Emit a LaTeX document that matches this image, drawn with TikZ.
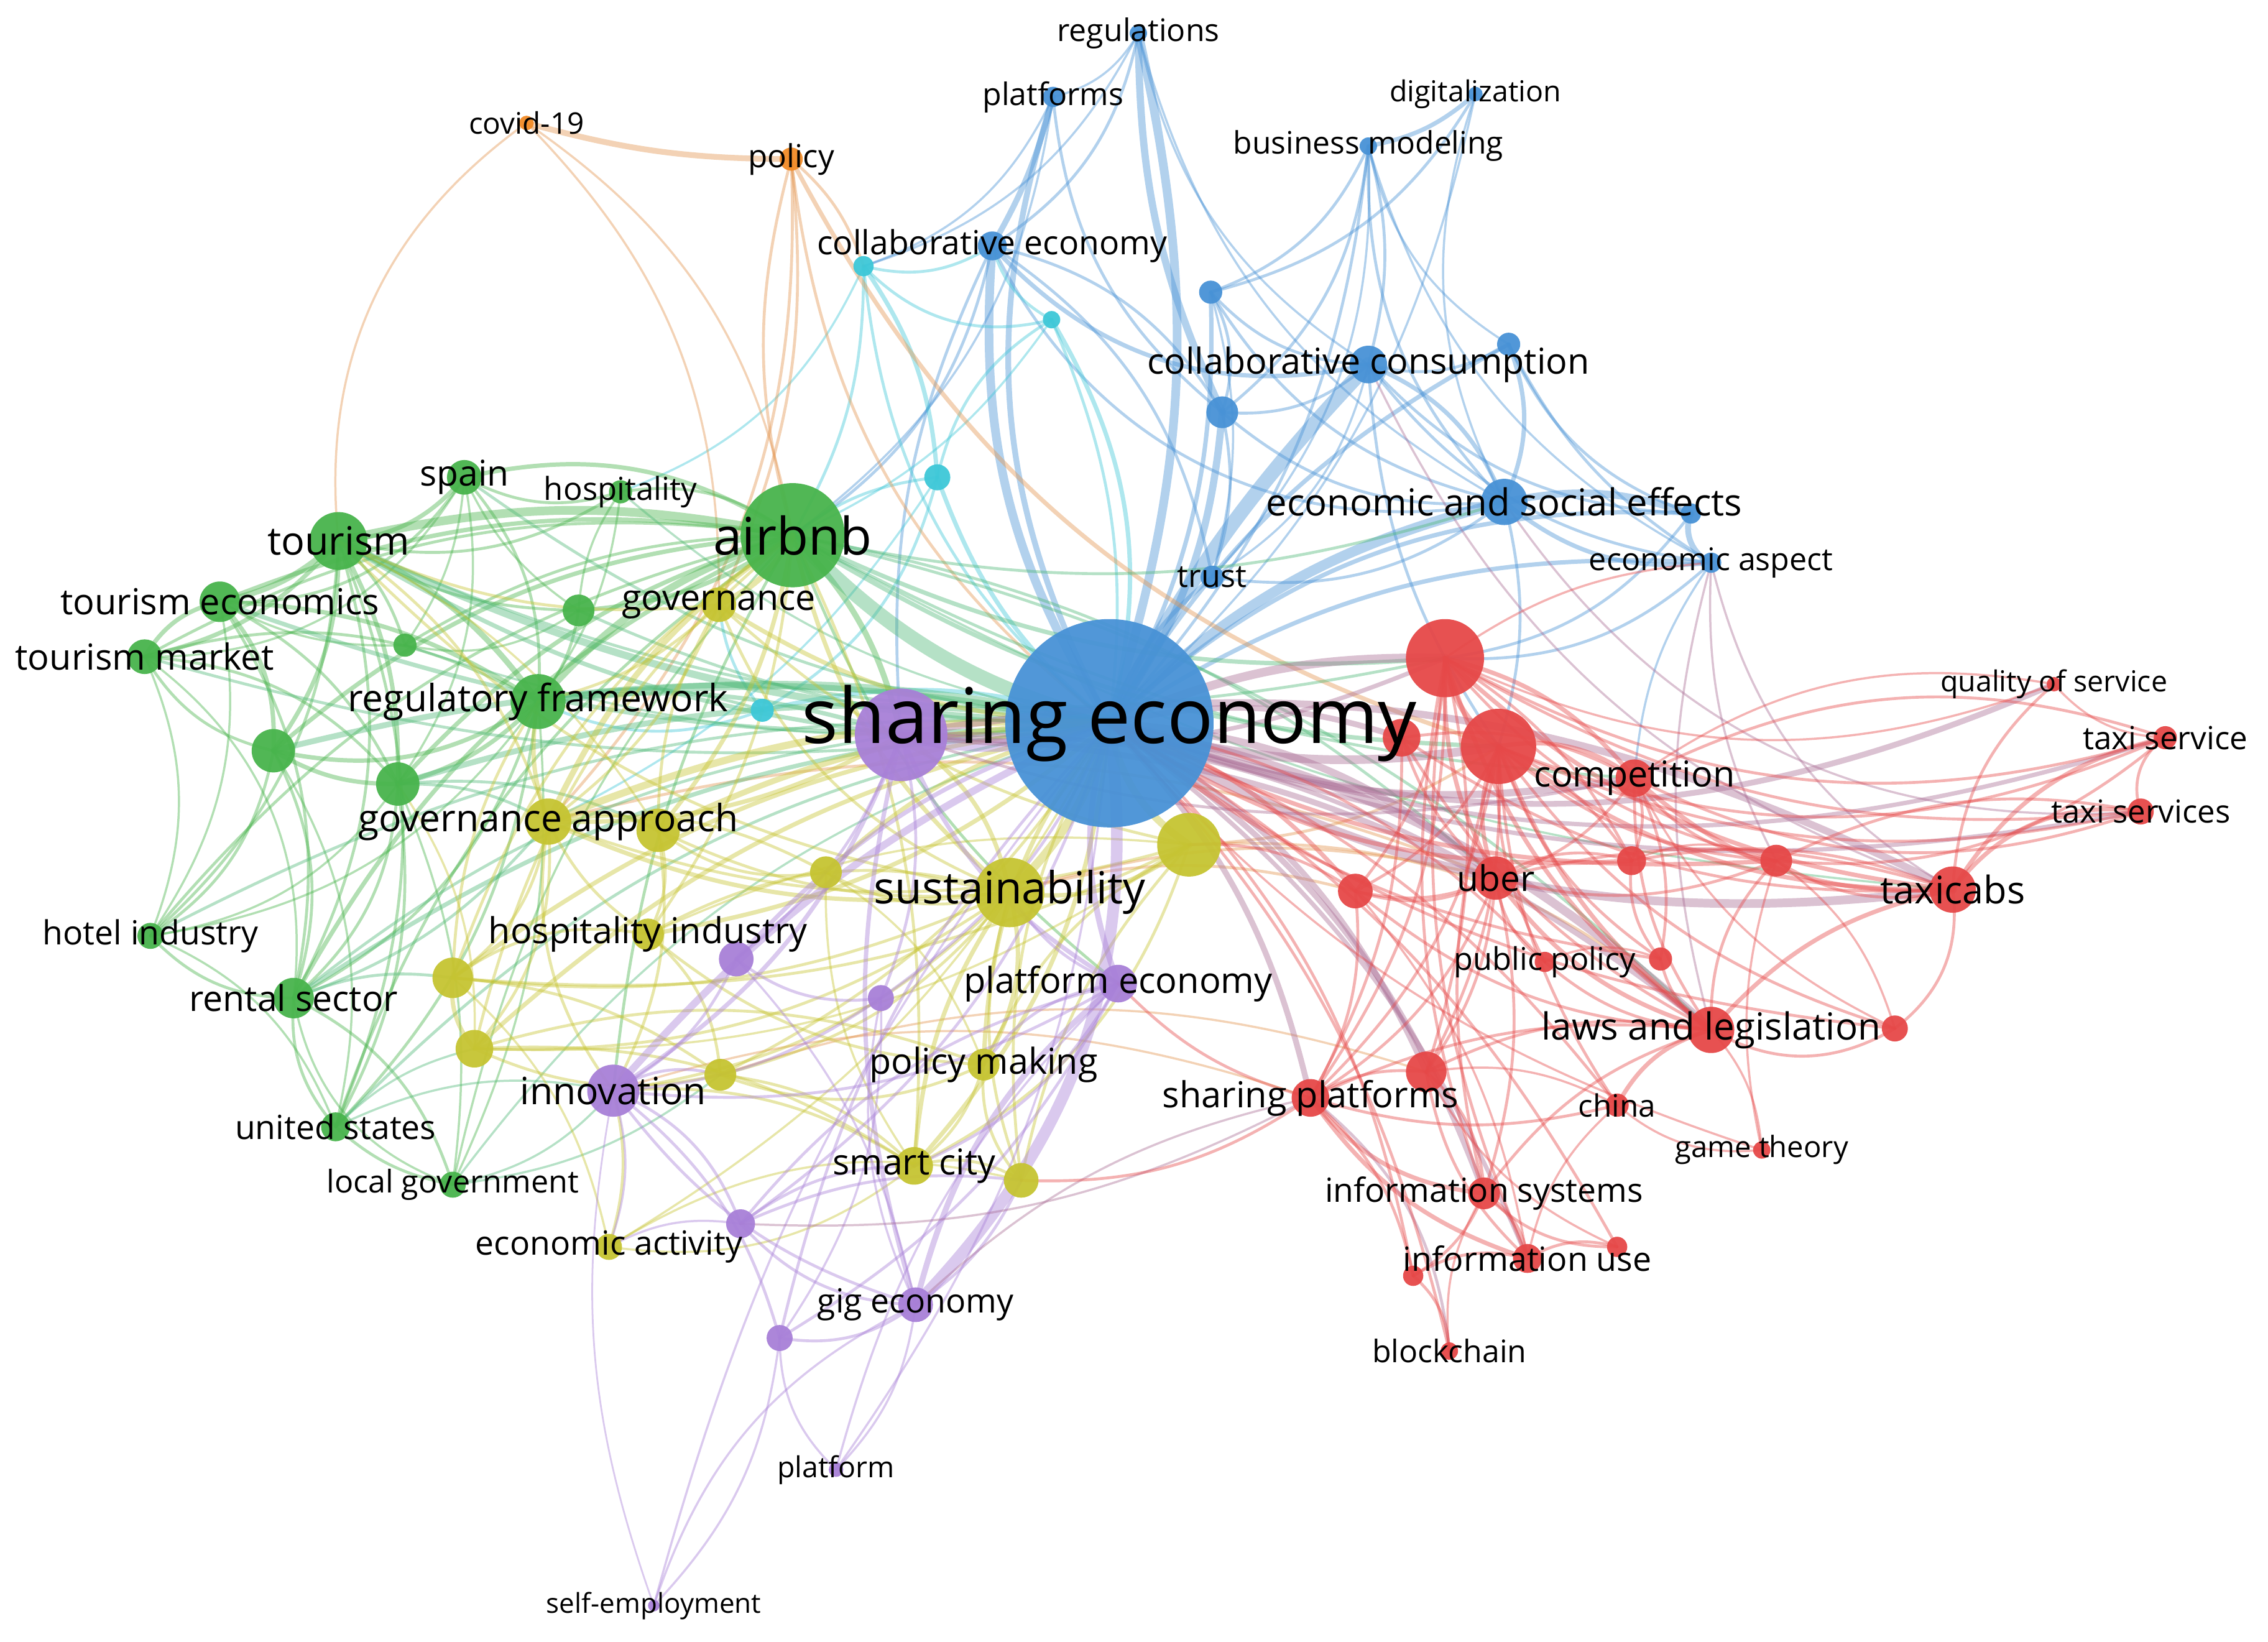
\documentclass[tikz,border=0pt]{standalone}
\usepackage{fontspec}
\setmainfont{Open Sans}
\definecolor{cR}{RGB}{230,72,72}
\definecolor{cG}{RGB}{72,180,76}
\definecolor{cB}{RGB}{72,146,214}
\definecolor{cY}{RGB}{198,196,50}
\definecolor{cP}{RGB}{168,128,216}
\definecolor{cC}{RGB}{62,200,216}
\definecolor{cO}{RGB}{242,140,40}
\definecolor{cM}{RGB}{170,110,150}
\definecolor{cT}{RGB}{80,185,120}
\definecolor{cK}{RGB}{228,150,80}
\tikzset{
  edge/.style={draw opacity=0.42, line cap=round},
  dot/.style={circle, inner sep=0pt, draw=none, fill opacity=0.95},
  lbl/.style={inner sep=0pt, text=black}
}
\begin{document}
\begin{tikzpicture}[x=1pt,y=-1pt]
\fill[white] (0,0) rectangle (1568,1135);
\useasboundingbox (0,0) rectangle (1568,1135);
% ---------- coordinates ----------
\foreach \n/\x/\y in {
 se/767/500, reg/787/23, plat/728/67, dig/1020/65, bm/946/101, ce/686/170, b1/837/202,
 cc/946/252, b2/1043/238, b3/845/285, ese/1040/347, b4/1169/355, ea/1183/389, tr/838/399,
 c1/597/184, c2/727/221, c3/648/330, c4/527/491, cov/364/85, pol/547/110,
 air/548/370, tou/234/374, spa/321/330, hos/429/340, te/152/416, tm/100/454, g1/280/446,
 g2/400/422, rf/372/485, g3/189/519, g4/275/542, hi/104/647, rs/203/690, us/232/779, lg/313/819,
 gov/497/418, ga/379/568, y1/455/574, y2/822/584, sus/698/617, y3/571/603, hi2/448/646,
 y4/313/676, y5/328/725, y6/498/743, pm/680/736, sc/632/806, y7/706/816, eac/421/862,
 p1/623/508, p2/509/663, pe/773/680, p3/609/690, inn/424/754, p4/512/846, gig/633/902,
 p5/539/925, pf/578/1016, sem/452/1110,
 r1/999/455, r2/1036/516, r11/969/510, comp/1130/538, qos/1420/473, ts/1497/510, tss/1480/561,
 taxi/1350/615, r3/1128/595, r4/1228/595, uber/1034/607, r5/937/616, pp/1068/665, r6/1148/663,
 ll/1183/712, r7/1310/711, r8/986/741, sp/906/759, chi/1118/764, gt/1218/795, is/1026/825,
 r9/1118/862, iu/1056/870, r10/977/882, bc/1002/934}
  \coordinate (\n) at (\x,\y);
% ---------- edges ----------
% blue cluster
\foreach \a/\b/\w/\k [evaluate=\k as \kk using 1.5*\k] in {
 reg/plat/1.5/15, reg/ce/2/15, reg/b3/5/-8, reg/cc/1.5/-15, reg/ese/1.5/-15, reg/c1/1.5/15,
 plat/ce/4/5, plat/b3/2/-15, plat/c1/1.5/15, dig/bm/3/10, dig/ese/1.5/-15, dig/b1/2/15,
 bm/cc/2/10, bm/b1/2/15, bm/ese/2/-15, bm/b2/1.5/-15, bm/ea/1.5/-15, bm/b3/2/15, bm/tr/1.5/15,
 ce/cc/3/-20, ce/b3/2/15, ce/ese/2/-25, ce/tr/2/15, b1/cc/2/-15, b1/ese/2/-15, b1/b3/2/15,
 b1/tr/1.5/10, cc/b2/2/-15, cc/ese/3/15, cc/b3/2/15, cc/b4/2/-15, cc/ea/2/-15, cc/tr/1.5/15,
 b2/ese/3/15, b2/b4/2/-15, b2/ea/2/-10, ese/b4/5/10, ese/ea/3/-15, ese/b3/2/15, ese/tr/2/15,
 b4/ea/4/-30, b3/tr/2/10, ea/r1/2/15, ese/r2/2/10, ea/comp/1.5/-10, b4/r1/2/15,
 se/reg/6/-10, se/plat/4/15, se/ce/6/12, se/b1/3/-10, se/cc/10/5, se/b3/5/-10, se/b2/3/10,
 se/ese/7/10, se/b4/3/15, se/ea/3/12, se/tr/3/10, se/bm/2/-12, se/dig/1.5/-12,
 ce/air/2/15, plat/air/1.5/15, ce/p1/2/-10, cc/r2/2/-10}
 \draw[edge, draw=cB, line width=\w] (\a) to[bend left=\kk] (\b);
% cyan
\foreach \a/\b/\w/\k [evaluate=\k as \kk using 1.5*\k] in {
 c1/c2/2/-20, c1/c3/3/10, c1/ce/2/-15, c2/ce/2/15, c2/c3/2/-15, c3/c4/2/15, c1/air/2/10,
 c3/air/2/-10, c4/rf/2/15, c4/gov/2/10, c1/hos/1.5/15, se/c1/2/15, se/c2/2/-10, se/c3/3/10,
 se/c4/3/-10, c2/air/1.5/10, c3/ga/1.5/10, c2/se/3/15}
 \draw[edge, draw=cC, line width=\w] (\a) to[bend left=\kk] (\b);
% orange
\foreach \a/\b/\w/\k [evaluate=\k as \kk using 1.5*\k] in {
 cov/pol/4/-5, tou/cov/1.5/20, cov/air/1.5/15, pol/air/2/-10, pol/ga/2/15, pol/c1/2/10,
 pol/r2/3/-15, se/pol/2/15, pol/gov/2/10, cov/gov/1.5/15, sus/uber/2/10, y2/ll/2/15,
 ga/uber/2/12, y2/r2/2/-10, sus/r5/2/10, y6/r8/1.5/12, inn/sp/1.5/12}
 \draw[edge, draw=cK, line width=\w] (\a) to[bend left=\kk] (\b);
% green cluster
\foreach \a/\b/\w/\k [evaluate=\k as \kk using 1.5*\k] in {
 air/tou/6/-8, air/te/3/-10, air/tm/2/-12, air/spa/3/-15, air/hos/2/-15, air/g1/2/-10,
 air/g2/3/10, air/rf/5/-10, air/g3/3/-12, air/g4/3/-10, air/rs/3/-12, air/hi/2/-12,
 air/us/2/-12, air/lg/1.5/-10, air/p1/4/10, air/inn/2/-8, air/pe/2/-10,
 tou/te/4/10, tou/tm/3/12, tou/spa/3/-15, tou/hos/2/-15, tou/g1/2/10, tou/g2/2/-10,
 tou/rf/4/10, tou/g3/3/12, tou/g4/3/10, tou/rs/2/15, tou/hi/2/15, tou/us/2/15,
 te/tm/3/-15, te/spa/2/-20, te/rf/3/10, te/g3/3/15, te/g4/2/12, te/rs/2/15, te/hi/1.5/15,
 te/g1/1.5/-10, tm/g3/2/-15, tm/rf/2/15, tm/g4/2/15, tm/spa/1.5/-20, tm/hi/1.5/15, tm/rs/1.5/20,
 spa/rf/2/15, spa/g1/1.5/10, spa/hos/2/-15, spa/g4/1.5/15, spa/g2/1.5/-10, g3/g4/3/-10,
 g3/rf/3/-15, g3/rs/2/15, g3/hi/2/15, g3/us/1.5/15, g4/rf/3/-10, g4/rs/2/15, g4/us/2/12,
 g4/lg/1.5/10, rf/g2/2/-10, rf/rs/2/15, rf/hi/1.5/15, rf/us/2/12, rf/lg/1.5/10,
 hi/rs/2/-15, hi/us/1.5/15, hi/g4/1.5/-15, rs/us/2/-15, rs/lg/2/15, us/lg/2/-10, lg/rs/1.5/20,
 g2/g1/1.5/15, hos/rf/1.5/10, hos/g2/1.5/-10}
 \draw[edge, draw=cG, line width=\w] (\a) to[bend left=\kk] (\b);
% green - other clusters
\foreach \a/\b/\w/\k [evaluate=\k as \kk using 1.5*\k] in {
 se/air/10/10, se/tou/5/8, se/te/3/8, se/tm/2/8, se/rf/6/-6, se/g3/4/-8, se/g4/4/-8,
 se/spa/2/10, se/hos/1.5/10, se/g2/2/8, se/g1/1.5/8, se/rs/3/-10, se/hi/2/-10, se/us/2/-12,
 se/lg/1.5/-12, tou/r1/2/-12, air/r1/3/-10, air/r2/3/-10, air/uber/2/10, air/comp/2/-8,
 air/ll/2/10, air/taxi/1.5/-8, air/ese/2/-10, rf/p1/3/8, tou/p1/3/-8, rf/c4/2/10,
 us/inn/1.5/12, us/y5/1.5/10, lg/inn/1.5/-12, lg/y6/1.5/-10, rs/y4/2/10, rs/ga/2/-10,
 g4/ga/2/10, g4/y1/2/10, rs/p1/2/10}
 \draw[edge, draw=cT, line width=\w] (\a) to[bend left=\kk] (\b);
% yellow cluster
\foreach \a/\b/\w/\k [evaluate=\k as \kk using 1.5*\k] in {
 air/gov/4/12, air/ga/4/-10, air/y1/3/10, air/sus/3/-12, air/hi2/2/10, air/y4/2/-12,
 air/y5/2/-12, air/sc/2/10, tou/gov/2/-10, tou/ga/2/12, tou/sus/2/-12, tou/y1/1.5/10,
 gov/ga/2/10, gov/y1/2/-10, gov/sus/2/-15, gov/y2/2/-10, gov/rf/2/10, ga/y1/3/15, ga/sus/3/-10,
 ga/y3/2/12, ga/hi2/2/-10, ga/y4/2/15, ga/y5/2/15, ga/inn/2/-15, ga/p1/3/-10, ga/rf/3/10,
 y1/sus/2/-10, y1/y3/2/-15, y1/hi2/2/15, sus/y2/3/-15, sus/y3/2/15, sus/pm/3/15, sus/sc/3/-10,
 sus/y7/2/-12, sus/y6/2/12, sus/hi2/2/-15, sus/inn/2/12, sus/p1/3/-15, sus/y4/2/10, sus/y5/2/12,
 y2/pm/2/-12, y2/sc/2/15, y2/y7/2/-10, y4/y5/3/-15, y4/hi2/2/15, y4/y6/2/10, y5/y6/2/-12,
 y5/pm/2/12, y5/sc/2/12, hi2/y6/2/15, hi2/pm/2/-12, y6/pm/2/-15, y6/sc/2/12, pm/sc/2/12,
 pm/y7/2/-15, sc/y7/2/15, sc/inn/2/-12, sc/eac/1.5/15, eac/inn/2/-10, eac/y4/1.5/-12,
 eac/y7/1.5/15, y3/pm/1.5/12, y3/sc/1.5/-12, se/gov/3/10, se/ga/5/-8, se/y1/4/-8,
 se/y2/5/-15, se/sus/6/10, se/y3/3/-10, se/hi2/3/10, se/y4/3/-10, se/y5/3/-10,
 se/y6/2/10, se/pm/3/-12, se/sc/3/12, se/y7/2/-12, se/eac/1.5/10, y4/rf/2/10, y5/g4/1.5/-12,
 y1/inn/2/12, ga/y2/2/-12, y4/y2/2/-10, hi2/y2/1.5/10, y5/y2/1.5/-12}
 \draw[edge, draw=cY, line width=\w] (\a) to[bend left=\kk] (\b);
% purple cluster
\foreach \a/\b/\w/\k [evaluate=\k as \kk using 1.5*\k] in {
 se/p1/9/10, se/p2/3/-10, se/pe/4/-12, se/p3/2/10, se/inn/5/-8, se/p4/2/12, se/gig/8/17,
 se/p5/2/-10, se/pf/1.5/10, se/sem/1.5/-8, p1/inn/3/12, p1/pe/3/-12, p1/p2/2/10, p1/gig/3/-10,
 p1/p3/2/12, pe/gig/4/-12, pe/inn/2/12, pe/p4/2/-12, pe/p5/2/10, pe/pf/1.5/-10, pe/pm/2/-15,
 pe/sc/2/12, inn/p2/2/-12, inn/p4/2/15, inn/gig/2/-12, inn/p5/2/12, inn/p3/2/-10, inn/y6/2/15,
 p4/gig/2/-15, p4/sc/2/12, p4/y7/2/10, gig/p5/2/15, gig/sem/1.5/-15, gig/pf/1.5/12,
 p5/pf/1.5/-15, p5/sem/1.5/12, p2/p3/2/-15, p2/gig/1.5/10, p3/gig/1.5/-12, p3/p5/1.5/12,
 inn/eac/1.5/12, p4/eac/1.5/-12, pe/sus/2/12, inn/sem/1.2/-10, gig/y7/2/-10}
 \draw[edge, draw=cP, line width=\w] (\a) to[bend left=\kk] (\b);
% mauve cross edges (blue/purple - red)
\foreach \a/\b/\w/\k [evaluate=\k as \kk using 1.5*\k] in {
 se/r1/6/8, se/r2/6/-8, se/r11/4/10, se/comp/5/-10, se/taxi/6/-12, se/ts/3/-12, se/tss/3/-10,
 se/qos/4/-14, se/uber/5/12, se/ll/6/10, se/r8/4/12, se/sp/4/10, se/is/4/12, se/iu/3/10,
 p1/taxi/5/12, p1/ll/4/12, p1/uber/3/10, p1/r1/3/-10, p1/comp/2/-10, ea/taxi/1.5/-15,
 ea/ll/1.5/-10, ea/r4/1.5/-10, cc/taxi/1.5/-15, sp/gig/1.5/-10, p4/sp/1.5/-10, sp/bc/2/15,
 ese/tss/1.5/-20}
 \draw[edge, draw=cM, line width=\w] (\a) to[bend left=\kk] (\b);
% red cluster
\foreach \a/\b/\w/\k [evaluate=\k as \kk using 1.5*\k] in {
 se/r3/3/-12, se/r4/3/-10, se/r5/3/10, se/pp/2/12, se/r6/2/-10, se/r7/2/-10, se/chi/2/10,
 se/gt/1.5/-10, se/r9/2/10, se/r10/2/12, se/bc/2/10,
 r1/r2/4/-15, r1/comp/3/12, r1/uber/3/-10, r1/taxi/3/-12, r1/ll/3/-12, r1/r3/2/10, r1/r4/2/-12,
 r1/r5/2/12, r1/sp/2/12, r1/is/2/-10, r1/ts/2/-15, r1/tss/2/-12, r1/qos/1.5/-15, r1/r8/2/10,
 r1/iu/2/-10, r2/comp/3/15, r2/uber/3/-15, r2/taxi/3/-12, r2/ll/3/-10, r2/r3/2/10, r2/r4/2/-12,
 r2/r5/2/12, r2/pp/2/-10, r2/r6/2/-12, r2/sp/2/12, r2/r8/2/10, r2/is/2/-10, r2/chi/2/-10,
 r2/tss/2/-12, r2/ts/2/-15, r2/r7/2/-12, comp/taxi/3/-15, comp/uber/2/12, comp/ll/2/-12,
 comp/r3/2/15, comp/r4/2/-15, comp/r6/2/12, comp/ts/2/15, comp/tss/2/-15, comp/qos/1.5/15,
 comp/r7/1.5/-12, taxi/ts/3/15, taxi/tss/3/20, taxi/ll/3/-12, taxi/r7/2/20, taxi/uber/2/-10,
 taxi/r4/2/15, taxi/r3/2/-10, taxi/qos/2/15, ts/tss/2/-25, ts/r4/2/15, tss/r4/2/-12,
 uber/r3/2/15, uber/ll/3/-12, uber/r5/2/15, uber/sp/2/12, uber/r8/2/10, uber/pp/2/-15,
 uber/r4/2/-12, uber/is/2/10, ll/r6/2/15, ll/r7/2/-20, ll/chi/3/-15, ll/pp/2/12, ll/r8/2/-12,
 ll/sp/2/-10, ll/gt/1.5/12, ll/is/2/-12, ll/r4/2/15, r4/gt/1.5/-10, r4/r7/1.5/12, r3/r6/2/-15,
 sp/r8/2/12, sp/is/3/-15, sp/iu/3/-12, sp/r10/2/12, sp/chi/2/-10, r8/is/2/15, r8/iu/2/-12,
 is/iu/3/15, is/r9/2/-15, is/r10/2/12, iu/r9/2/15, iu/r10/2/-15, r10/bc/2/15, is/bc/1.5/-12,
 iu/chi/1.5/12, r8/r9/1.5/-12, r5/uber/2/-12, r5/sp/2/12, r5/ll/2/-12, r5/iu/1.5/10,
 r11/comp/2/12, r11/uber/2/-10, r11/sp/2/10, r11/ll/2/-10, r11/taxi/2/-12, r3/r4/1.5/15,
 r6/pp/1.5/-15, r8/chi/1.5/12, chi/gt/1.5/-15, pe/sp/2/-10, y7/sp/2/-12, y2/r5/2/12,
 r1/ea/1.5/10, qos/ts/1.5/-15}
 \draw[edge, draw=cR, line width=\w] (\a) to[bend left=\kk] (\b);
% ---------- nodes ----------
\foreach \n/\r/\c in {
 se/72/cB, reg/6/cB, plat/7/cB, dig/5/cB, bm/6/cB, ce/10/cB, b1/8/cB, cc/13/cB, b2/8/cB,
 b3/11/cB, ese/16/cB, b4/7/cB, ea/7/cB, tr/8/cB, c1/7/cC, c2/6/cC, c3/9/cC, c4/8/cC,
 cov/5/cO, pol/8/cO, air/36/cG, tou/20/cG, spa/12/cG, hos/8/cG, te/14/cG, tm/12/cG, g1/8/cG,
 g2/11/cG, rf/19/cG, g3/15/cG, g4/15/cG, hi/9/cG, rs/14/cG, us/10/cG, lg/9/cG,
 gov/12/cY, ga/16/cY, y1/15/cY, y2/22/cY, sus/24/cY, y3/11/cY, hi2/11/cY, y4/14/cY, y5/13/cY,
 y6/11/cY, pm/11/cY, sc/13/cY, y7/12/cY, eac/9/cY,
 p1/32/cP, p2/12/cP, pe/13/cP, p3/9/cP, inn/18/cP, p4/10/cP, gig/12/cP, p5/9/cP, pf/5/cP, sem/4/cP,
 r1/27/cR, r2/26/cR, r11/13/cR, comp/13/cR, qos/5/cR, ts/8/cR, tss/9/cR, taxi/16/cR, r3/10/cR,
 r4/11/cR, uber/15/cR, r5/12/cR, pp/7/cR, r6/8/cR, ll/16/cR, r7/9/cR, r8/14/cR, sp/13/cR,
 chi/8/cR, gt/6/cR, is/11/cR, r9/7/cR, iu/10/cR, r10/7/cR, bc/6/cR}
 \node[dot, fill=\c, minimum size=2*\r pt] (\n-dot) at (\n) {};
% ---------- labels ----------
\foreach \n/\s/\t in {
 se/53/sharing economy, reg/21.5/regulations, plat/21.5/platforms, dig/20/digitalization,
 bm/21.4/business modeling, ce/23/collaborative economy, cc/24.7/collaborative consumption,
 ese/25.7/economic and social effects, ea/21.6/economic aspect, tr/21.7/trust,
 cov/20.5/covid-19, pol/22/policy, air/35.8/airbnb, tou/27/tourism, spa/24.5/spain,
 hos/21.9/hospitality, te/24.8/tourism economics, tm/24.8/tourism market,
 rf/26/regulatory framework, hi/23/hotel industry, rs/24.6/rental sector, us/23/united states,
 lg/21.6/local government, gov/24.7/governance, ga/26/governance approach,
 sus/30.6/sustainability, hi2/24.7/hospitality industry, pm/24.7/policy making,
 sc/24.6/smart city, eac/23/economic activity, pe/24.8/platform economy, inn/26/innovation,
 gig/23/gig economy, pf/20/platform, sem/18.9/self-employment, comp/24.7/competition,
 qos/20/quality of service, ts/22/taxi service, tss/21.9/taxi services, taxi/26.3/taxicabs,
 uber/24.5/uber, pp/21.7/public policy, ll/25.8/laws and legislation,
 sp/24.8/sharing platforms, chi/21.3/china, gt/20.3/game theory,
 is/23/information systems, iu/23.1/information use, bc/21.5/blockchain}
 \node[lbl, font=\fontsize{\s pt}{\s pt}\selectfont] (\n-lbl) at (\n) {\t};
\end{tikzpicture}
\end{document}
